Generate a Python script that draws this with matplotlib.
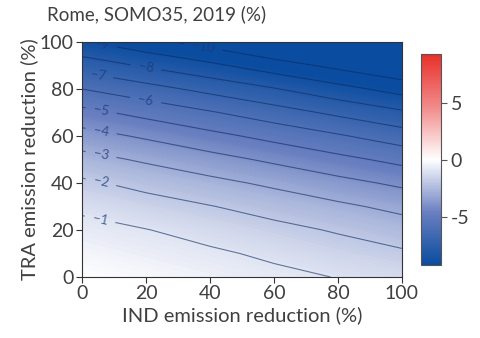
import numpy as np
import matplotlib
matplotlib.use('Agg')
import matplotlib.pyplot as plt
from matplotlib.colors import LinearSegmentedColormap, Normalize

plt.rcParams['font.family'] = ['Lato', 'DejaVu Sans']

# emission reductions (%) on the grid
ind = [0, 20, 40, 60, 80, 100]
tra = [0, 10, 20, 30, 40, 50, 60, 70, 80, 90, 100]

# SOMO35 change (%), one row per TRA value, columns follow IND
somo = [
    [0.00, -0.26, -0.51, -0.77, -1.03, -1.30],
    [-0.36, -0.62, -0.85, -1.17, -1.55, -1.86],
    [-0.73, -0.97, -1.34, -1.72, -2.09, -2.51],
    [-1.17, -1.59, -1.96, -2.38, -2.81, -3.26],
    [-1.83, -2.29, -2.73, -3.19, -3.70, -4.19],
    [-2.65, -3.14, -3.65, -4.18, -4.73, -5.28],
    [-3.61, -4.14, -4.72, -5.30, -5.89, -6.52],
    [-4.71, -5.31, -5.91, -6.56, -7.21, -7.84],
    [-6.00, -6.63, -7.29, -7.93, -8.66, -9.38],
    [-7.43, -8.12, -8.78, -9.54, -10.26, -10.97],
    [-8.92, -9.67, -10.41, -11.25, -11.92, -12.61],
]

line_levels = [-10, -9, -8, -7, -6, -5, -4, -3, -2, -1]
cbar_ticks = [-5, 0, 5]
cbar_labels = ['-5', '0', '5']

X, Y = np.meshgrid(ind, tra)
Z = np.array(somo)

cmap = LinearSegmentedColormap.from_list(
    'somo', ['#0a4c9f', '#6a7fc0', '#ffffff', '#f18a8a', '#e8302a'])
norm = Normalize(vmin=-9.25, vmax=9.25)

txt = '#404040'
fig = plt.figure(figsize=(4.81, 3.38), dpi=100)
ax = fig.add_axes([0.1705, 0.1805, 0.665, 0.6952])

ax.contourf(X, Y, Z, levels=np.linspace(-13, 0.2, 160), cmap=cmap, norm=norm,
            antialiased=False)
cs = ax.contour(X, Y, Z, levels=line_levels, colors='#0d2a63', linewidths=0.8,
                linestyles='solid', alpha=0.6)
lab_pos = [(38, 98.5), (6, 99.2), (20, 89.5), (5, 86.5), (20, 76), (6, 71),
           (6, 62.5), (6, 52.5), (6, 41), (6, 27)]
labels = ax.clabel(cs, fmt=lambda v: '\u2212%d' % abs(v), fontsize=9.5,
                   inline=True, inline_spacing=8, manual=lab_pos)
for t in labels:
    t.set_color('#1c3a78')
    t.set_alpha(0.75)

ax.set_xlim(0, 100)
ax.set_ylim(0, 100)
ax.set_xticks([0, 20, 40, 60, 80, 100])
ax.set_yticks([0, 20, 40, 60, 80, 100])
ax.tick_params(direction='out', length=4, width=0.8, colors='#333333',
               labelcolor=txt, labelsize=14, pad=2)
for s in ax.spines.values():
    s.set_color('#333333')
    s.set_linewidth(0.8)
ax.set_xlabel('IND emission reduction (%)', fontsize=14.5, color=txt, labelpad=3)
ax.set_ylabel('TRA emission reduction (%)', fontsize=14.5, color=txt, labelpad=1)

fig.text(0.098, 0.958, 'Rome, SOMO35, 2019 (%)', fontsize=13.5, color=txt,
         ha='left', va='center')

cax = fig.add_axes([0.8753, 0.216, 0.0416, 0.624])
sm = plt.cm.ScalarMappable(norm=norm, cmap=cmap)
cb = fig.colorbar(sm, cax=cax, ticks=cbar_ticks)
cb.ax.set_yticklabels(cbar_labels)
cb.ax.tick_params(length=4, width=0.8, colors='#555555', labelcolor=txt,
                  labelsize=14, pad=3)
cb.outline.set_edgecolor('#555555')
cb.outline.set_linewidth(0.8)

fig.savefig('out.png', dpi=100)
